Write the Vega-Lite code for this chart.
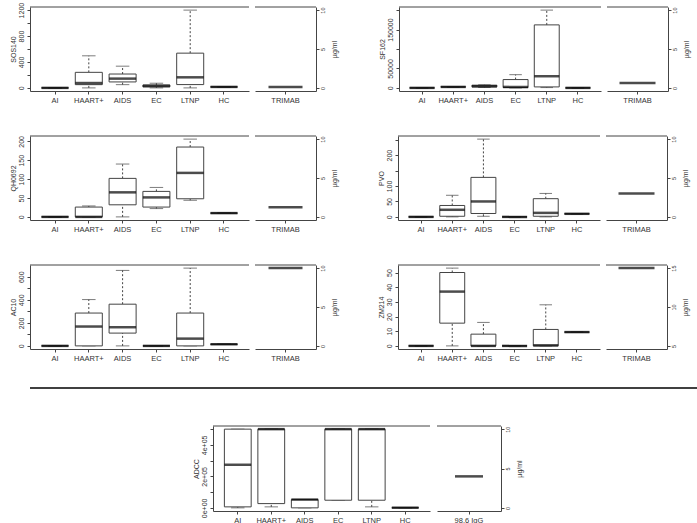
{
"$schema": "https://vega.github.io/schema/vega-lite/v6.json",
"padding": {"left": 8, "top": 2, "right": 0, "bottom": 0},
"background": "white",
"datasets": {
"box": [
{"panel":"SOS140","group":"AI","min":0,"q1":0,"med":0,"q3":0,"max":0},
{"panel":"SOS140","group":"HAART+","min":0,"q1":50,"med":75,"q3":240,"max":495},
{"panel":"SOS140","group":"AIDS","min":50,"q1":92,"med":143,"q3":214,"max":335},
{"panel":"SOS140","group":"EC","min":0,"q1":15,"med":30,"q3":45,"max":72},
{"panel":"SOS140","group":"LTNP","min":0,"q1":51,"med":163,"q3":536,"max":1200},
{"panel":"SOS140","group":"HC","min":15,"q1":15,"med":15,"q3":15,"max":15},
{"panel":"SF162","group":"AI","min":0,"q1":0,"med":0,"q3":0,"max":0},
{"panel":"SF162","group":"HAART+","min":2000,"q1":2300,"med":2500,"q3":2700,"max":3000},
{"panel":"SF162","group":"AIDS","min":1000,"q1":2500,"med":4200,"q3":7000,"max":8000},
{"panel":"SF162","group":"EC","min":0,"q1":800,"med":2500,"q3":21400,"max":34000},
{"panel":"SF162","group":"LTNP","min":800,"q1":2500,"med":30000,"q3":162000,"max":200000},
{"panel":"SF162","group":"HC","min":0,"q1":0,"med":0,"q3":0,"max":0},
{"panel":"QH0692","group":"AI","min":0,"q1":0,"med":0,"q3":0,"max":0},
{"panel":"QH0692","group":"HAART+","min":0,"q1":0,"med":0,"q3":26,"max":29},
{"panel":"QH0692","group":"AIDS","min":0,"q1":32,"med":65,"q3":102,"max":140},
{"panel":"QH0692","group":"EC","min":22,"q1":26,"med":51.6,"q3":67.5,"max":78},
{"panel":"QH0692","group":"LTNP","min":44,"q1":48,"med":116.5,"q3":185,"max":206},
{"panel":"QH0692","group":"HC","min":10,"q1":10,"med":10,"q3":10,"max":10},
{"panel":"PVO","group":"AI","min":0,"q1":0,"med":0,"q3":0,"max":0},
{"panel":"PVO","group":"HAART+","min":0,"q1":2,"med":23,"q3":37,"max":70},
{"panel":"PVO","group":"AIDS","min":2,"q1":11,"med":50,"q3":128,"max":252},
{"panel":"PVO","group":"EC","min":0,"q1":0,"med":0,"q3":0,"max":0},
{"panel":"PVO","group":"LTNP","min":0,"q1":2,"med":13,"q3":59,"max":76},
{"panel":"PVO","group":"HC","min":10,"q1":10,"med":10,"q3":10,"max":10},
{"panel":"AC10","group":"AI","min":0,"q1":0,"med":0,"q3":0,"max":0},
{"panel":"AC10","group":"HAART+","min":0,"q1":0,"med":168,"q3":285,"max":402},
{"panel":"AC10","group":"AIDS","min":0,"q1":111,"med":162,"q3":362,"max":655},
{"panel":"AC10","group":"EC","min":0,"q1":0,"med":0,"q3":0,"max":0},
{"panel":"AC10","group":"LTNP","min":0,"q1":0,"med":63,"q3":285,"max":675},
{"panel":"AC10","group":"HC","min":14,"q1":14,"med":14,"q3":14,"max":14},
{"panel":"ZM214","group":"AI","min":0,"q1":0,"med":0,"q3":0,"max":0},
{"panel":"ZM214","group":"HAART+","min":0,"q1":15.5,"med":37,"q3":50,"max":53},
{"panel":"ZM214","group":"AIDS","min":0,"q1":0,"med":0,"q3":8,"max":16},
{"panel":"ZM214","group":"EC","min":0,"q1":0,"med":0,"q3":0,"max":0},
{"panel":"ZM214","group":"LTNP","min":0,"q1":0,"med":0.4,"q3":11.2,"max":28},
{"panel":"ZM214","group":"HC","min":9.4,"q1":9.4,"med":9.4,"q3":9.4,"max":9.4},
{"panel":"ADCC","group":"AI","min":0,"q1":6300,"med":273700,"q3":500000,"max":500000},
{"panel":"ADCC","group":"HAART+","min":6300,"q1":27000,"med":500000,"q3":500000,"max":500000},
{"panel":"ADCC","group":"AIDS","min":0,"q1":0,"med":52600,"q3":52600,"max":52600},
{"panel":"ADCC","group":"EC","min":48400,"q1":48400,"med":500000,"q3":500000,"max":500000},
{"panel":"ADCC","group":"LTNP","min":6300,"q1":48400,"med":500000,"q3":500000,"max":500000},
{"panel":"ADCC","group":"HC","min":1000,"q1":1000,"med":1000,"q3":1000,"max":1000}
],
"ref": [
{"panel":"SOS140","group":"TRIMAB","value":0.1},
{"panel":"SF162","group":"TRIMAB","value":0.64},
{"panel":"QH0692","group":"TRIMAB","value":1.23},
{"panel":"PVO","group":"TRIMAB","value":3.0},
{"panel":"AC10","group":"TRIMAB","value":10},
{"panel":"ZM214","group":"TRIMAB","value":15},
{"panel":"ADCC","group":"98.6 IgG","value":4.0}
]
},
"spacing": 25,
"vconcat": [
{
"spacing": 31,
"vconcat": [
{
"spacing": 39,
"hconcat": [
{"spacing": 4, "hconcat": [
{"width": 219, "height": 84, "data": {"name": "box"}, "transform": [{"filter": "datum.panel === 'SOS140'"}], "resolve": {"axis": {"y": "independent"}},
"layer": [
{"mark": {"type": "rule", "color": "#444", "strokeDash": [2, 2]}, "encoding": {"x": {"field": "group", "type": "nominal", "sort": ["AI","HAART+","AIDS","EC","LTNP","HC"], "scale": {"type": "band", "paddingInner": 0, "paddingOuter": 0.24}, "axis": {"title": null}}, "y": {"field": "q3", "type": "quantitative", "scale": {"domain": [-48, 1248], "nice": false, "zero": false}, "axis": {"title": "SOS140", "format": "d", "labelOverlap": false, "values": [0,200,400,600,800,1000,1200], "labelExpr": "indexof([0,400,800,1200], datum.value) >= 0 ? datum.label : ''"}}, "y2": {"field": "max"}}},
{"mark": {"type": "rule", "color": "#444", "strokeDash": [2, 2]}, "encoding": {"x": {"field": "group", "type": "nominal", "sort": ["AI","HAART+","AIDS","EC","LTNP","HC"]}, "y": {"field": "min", "type": "quantitative", "axis": null}, "y2": {"field": "q1"}}},
{"mark": {"type": "tick", "size": 13.5, "thickness": 1, "color": "#444"}, "encoding": {"x": {"field": "group", "type": "nominal", "sort": ["AI","HAART+","AIDS","EC","LTNP","HC"]}, "y": {"field": "max", "type": "quantitative", "axis": null}}},
{"mark": {"type": "tick", "size": 13.5, "thickness": 1, "color": "#444"}, "encoding": {"x": {"field": "group", "type": "nominal", "sort": ["AI","HAART+","AIDS","EC","LTNP","HC"]}, "y": {"field": "min", "type": "quantitative", "axis": null}}},
{"mark": {"type": "bar", "width": {"band": 0.8}, "fill": "#fff", "stroke": "#444", "strokeWidth": 1}, "encoding": {"x": {"field": "group", "type": "nominal", "sort": ["AI","HAART+","AIDS","EC","LTNP","HC"]}, "y": {"field": "q1", "type": "quantitative", "axis": null}, "y2": {"field": "q3"}}},
{"mark": {"type": "tick", "size": 27, "thickness": 2.5, "color": "#000"}, "encoding": {"x": {"field": "group", "type": "nominal", "sort": ["AI","HAART+","AIDS","EC","LTNP","HC"]}, "y": {"field": "med", "type": "quantitative", "axis": null}}},
{"data": {"values": [{}]}, "mark": {"type": "rule", "color": "#444"}, "encoding": {"y": {"datum": 1248, "type": "quantitative", "axis": null}}}
]},
{"width": 61, "height": 84, "resolve": {"axis": {"y": "independent"}},
"layer": [
{"data": {"name": "ref"}, "transform": [{"filter": "datum.panel === 'SOS140'"}], "mark": {"type": "tick", "size": 34, "thickness": 2.5, "color": "#000"}, "encoding": {"x": {"field": "group", "type": "nominal", "scale": {"type": "band"}, "axis": {"title": null}}, "y": {"field": "value", "type": "quantitative", "scale": {"domain": [-0.4, 10.4], "nice": false, "zero": false}, "axis": {"orient": "right", "title": "µg/ml", "labelOverlap": false, "values": [0, 5, 10]}}}},
{"data": {"values": [{}]}, "mark": {"type": "rule", "color": "#444"}, "encoding": {"y": {"datum": 10.4, "type": "quantitative", "axis": null}}}
]}
]},
{"spacing": 4, "hconcat": [
{"width": 202, "height": 84, "data": {"name": "box"}, "transform": [{"filter": "datum.panel === 'SF162'"}], "resolve": {"axis": {"y": "independent"}},
"layer": [
{"mark": {"type": "rule", "color": "#444", "strokeDash": [2, 2]}, "encoding": {"x": {"field": "group", "type": "nominal", "sort": ["AI","HAART+","AIDS","EC","LTNP","HC"], "scale": {"type": "band", "paddingInner": 0, "paddingOuter": 0.24}, "axis": {"title": null}}, "y": {"field": "q3", "type": "quantitative", "scale": {"domain": [-8000, 208000], "nice": false, "zero": false}, "axis": {"title": "SF162", "format": "d", "labelOverlap": false, "values": [0,50000,100000,150000,200000], "labelExpr": "indexof([0,50000,150000], datum.value) >= 0 ? datum.label : ''"}}, "y2": {"field": "max"}}},
{"mark": {"type": "rule", "color": "#444", "strokeDash": [2, 2]}, "encoding": {"x": {"field": "group", "type": "nominal", "sort": ["AI","HAART+","AIDS","EC","LTNP","HC"]}, "y": {"field": "min", "type": "quantitative", "axis": null}, "y2": {"field": "q1"}}},
{"mark": {"type": "tick", "size": 12.5, "thickness": 1, "color": "#444"}, "encoding": {"x": {"field": "group", "type": "nominal", "sort": ["AI","HAART+","AIDS","EC","LTNP","HC"]}, "y": {"field": "max", "type": "quantitative", "axis": null}}},
{"mark": {"type": "tick", "size": 12.5, "thickness": 1, "color": "#444"}, "encoding": {"x": {"field": "group", "type": "nominal", "sort": ["AI","HAART+","AIDS","EC","LTNP","HC"]}, "y": {"field": "min", "type": "quantitative", "axis": null}}},
{"mark": {"type": "bar", "width": {"band": 0.8}, "fill": "#fff", "stroke": "#444", "strokeWidth": 1}, "encoding": {"x": {"field": "group", "type": "nominal", "sort": ["AI","HAART+","AIDS","EC","LTNP","HC"]}, "y": {"field": "q1", "type": "quantitative", "axis": null}, "y2": {"field": "q3"}}},
{"mark": {"type": "tick", "size": 25, "thickness": 2.5, "color": "#000"}, "encoding": {"x": {"field": "group", "type": "nominal", "sort": ["AI","HAART+","AIDS","EC","LTNP","HC"]}, "y": {"field": "med", "type": "quantitative", "axis": null}}},
{"data": {"values": [{}]}, "mark": {"type": "rule", "color": "#444"}, "encoding": {"y": {"datum": 208000, "type": "quantitative", "axis": null}}}
]},
{"width": 61, "height": 84, "resolve": {"axis": {"y": "independent"}},
"layer": [
{"data": {"name": "ref"}, "transform": [{"filter": "datum.panel === 'SF162'"}], "mark": {"type": "tick", "size": 36, "thickness": 2.5, "color": "#000"}, "encoding": {"x": {"field": "group", "type": "nominal", "scale": {"type": "band"}, "axis": {"title": null}}, "y": {"field": "value", "type": "quantitative", "scale": {"domain": [-0.4, 10.4], "nice": false, "zero": false}, "axis": {"orient": "right", "title": "µg/ml", "labelOverlap": false, "values": [0, 5, 10]}}}},
{"data": {"values": [{}]}, "mark": {"type": "rule", "color": "#444"}, "encoding": {"y": {"datum": 10.4, "type": "quantitative", "axis": null}}}
]}
]}
]
},
{
"spacing": 39,
"hconcat": [
{"spacing": 4, "hconcat": [
{"width": 219, "height": 84, "data": {"name": "box"}, "transform": [{"filter": "datum.panel === 'QH0692'"}], "resolve": {"axis": {"y": "independent"}},
"layer": [
{"mark": {"type": "rule", "color": "#444", "strokeDash": [2, 2]}, "encoding": {"x": {"field": "group", "type": "nominal", "sort": ["AI","HAART+","AIDS","EC","LTNP","HC"], "scale": {"type": "band", "paddingInner": 0, "paddingOuter": 0.24}, "axis": {"title": null}}, "y": {"field": "q3", "type": "quantitative", "scale": {"domain": [-8.24, 214.24], "nice": false, "zero": false}, "axis": {"title": "QH0692", "format": "d", "labelOverlap": false, "values": [0,50,100,150,200]}}, "y2": {"field": "max"}}},
{"mark": {"type": "rule", "color": "#444", "strokeDash": [2, 2]}, "encoding": {"x": {"field": "group", "type": "nominal", "sort": ["AI","HAART+","AIDS","EC","LTNP","HC"]}, "y": {"field": "min", "type": "quantitative", "axis": null}, "y2": {"field": "q1"}}},
{"mark": {"type": "tick", "size": 13.5, "thickness": 1, "color": "#444"}, "encoding": {"x": {"field": "group", "type": "nominal", "sort": ["AI","HAART+","AIDS","EC","LTNP","HC"]}, "y": {"field": "max", "type": "quantitative", "axis": null}}},
{"mark": {"type": "tick", "size": 13.5, "thickness": 1, "color": "#444"}, "encoding": {"x": {"field": "group", "type": "nominal", "sort": ["AI","HAART+","AIDS","EC","LTNP","HC"]}, "y": {"field": "min", "type": "quantitative", "axis": null}}},
{"mark": {"type": "bar", "width": {"band": 0.8}, "fill": "#fff", "stroke": "#444", "strokeWidth": 1}, "encoding": {"x": {"field": "group", "type": "nominal", "sort": ["AI","HAART+","AIDS","EC","LTNP","HC"]}, "y": {"field": "q1", "type": "quantitative", "axis": null}, "y2": {"field": "q3"}}},
{"mark": {"type": "tick", "size": 27, "thickness": 2.5, "color": "#000"}, "encoding": {"x": {"field": "group", "type": "nominal", "sort": ["AI","HAART+","AIDS","EC","LTNP","HC"]}, "y": {"field": "med", "type": "quantitative", "axis": null}}},
{"data": {"values": [{}]}, "mark": {"type": "rule", "color": "#444"}, "encoding": {"y": {"datum": 214.24, "type": "quantitative", "axis": null}}}
]},
{"width": 61, "height": 84, "resolve": {"axis": {"y": "independent"}},
"layer": [
{"data": {"name": "ref"}, "transform": [{"filter": "datum.panel === 'QH0692'"}], "mark": {"type": "tick", "size": 34, "thickness": 2.5, "color": "#000"}, "encoding": {"x": {"field": "group", "type": "nominal", "scale": {"type": "band"}, "axis": {"title": null}}, "y": {"field": "value", "type": "quantitative", "scale": {"domain": [-0.4, 10.4], "nice": false, "zero": false}, "axis": {"orient": "right", "title": "µg/ml", "labelOverlap": false, "values": [0, 5, 10]}}}},
{"data": {"values": [{}]}, "mark": {"type": "rule", "color": "#444"}, "encoding": {"y": {"datum": 10.4, "type": "quantitative", "axis": null}}}
]}
]},
{"spacing": 4, "hconcat": [
{"width": 202, "height": 84, "data": {"name": "box"}, "transform": [{"filter": "datum.panel === 'PVO'"}], "resolve": {"axis": {"y": "independent"}},
"layer": [
{"mark": {"type": "rule", "color": "#444", "strokeDash": [2, 2]}, "encoding": {"x": {"field": "group", "type": "nominal", "sort": ["AI","HAART+","AIDS","EC","LTNP","HC"], "scale": {"type": "band", "paddingInner": 0, "paddingOuter": 0.24}, "axis": {"title": null}}, "y": {"field": "q3", "type": "quantitative", "scale": {"domain": [-10.08, 262.08], "nice": false, "zero": false}, "axis": {"title": "PVO", "format": "d", "labelOverlap": false, "values": [0,50,100,150,200,250], "labelExpr": "indexof([0,50,100,200], datum.value) >= 0 ? datum.label : ''"}}, "y2": {"field": "max"}}},
{"mark": {"type": "rule", "color": "#444", "strokeDash": [2, 2]}, "encoding": {"x": {"field": "group", "type": "nominal", "sort": ["AI","HAART+","AIDS","EC","LTNP","HC"]}, "y": {"field": "min", "type": "quantitative", "axis": null}, "y2": {"field": "q1"}}},
{"mark": {"type": "tick", "size": 12.5, "thickness": 1, "color": "#444"}, "encoding": {"x": {"field": "group", "type": "nominal", "sort": ["AI","HAART+","AIDS","EC","LTNP","HC"]}, "y": {"field": "max", "type": "quantitative", "axis": null}}},
{"mark": {"type": "tick", "size": 12.5, "thickness": 1, "color": "#444"}, "encoding": {"x": {"field": "group", "type": "nominal", "sort": ["AI","HAART+","AIDS","EC","LTNP","HC"]}, "y": {"field": "min", "type": "quantitative", "axis": null}}},
{"mark": {"type": "bar", "width": {"band": 0.8}, "fill": "#fff", "stroke": "#444", "strokeWidth": 1}, "encoding": {"x": {"field": "group", "type": "nominal", "sort": ["AI","HAART+","AIDS","EC","LTNP","HC"]}, "y": {"field": "q1", "type": "quantitative", "axis": null}, "y2": {"field": "q3"}}},
{"mark": {"type": "tick", "size": 25, "thickness": 2.5, "color": "#000"}, "encoding": {"x": {"field": "group", "type": "nominal", "sort": ["AI","HAART+","AIDS","EC","LTNP","HC"]}, "y": {"field": "med", "type": "quantitative", "axis": null}}},
{"data": {"values": [{}]}, "mark": {"type": "rule", "color": "#444"}, "encoding": {"y": {"datum": 262.08, "type": "quantitative", "axis": null}}}
]},
{"width": 61, "height": 84, "resolve": {"axis": {"y": "independent"}},
"layer": [
{"data": {"name": "ref"}, "transform": [{"filter": "datum.panel === 'PVO'"}], "mark": {"type": "tick", "size": 36, "thickness": 2.5, "color": "#000"}, "encoding": {"x": {"field": "group", "type": "nominal", "scale": {"type": "band"}, "axis": {"title": null}}, "y": {"field": "value", "type": "quantitative", "scale": {"domain": [-0.4, 10.4], "nice": false, "zero": false}, "axis": {"orient": "right", "title": "µg/ml", "labelOverlap": false, "values": [0, 5, 10]}}}},
{"data": {"values": [{}]}, "mark": {"type": "rule", "color": "#444"}, "encoding": {"y": {"datum": 10.4, "type": "quantitative", "axis": null}}}
]}
]}
]
},
{
"spacing": 39,
"hconcat": [
{"spacing": 4, "hconcat": [
{"width": 219, "height": 84, "data": {"name": "box"}, "transform": [{"filter": "datum.panel === 'AC10'"}], "resolve": {"axis": {"y": "independent"}},
"layer": [
{"mark": {"type": "rule", "color": "#444", "strokeDash": [2, 2]}, "encoding": {"x": {"field": "group", "type": "nominal", "sort": ["AI","HAART+","AIDS","EC","LTNP","HC"], "scale": {"type": "band", "paddingInner": 0, "paddingOuter": 0.24}, "axis": {"title": null}}, "y": {"field": "q3", "type": "quantitative", "scale": {"domain": [-27, 702], "nice": false, "zero": false}, "axis": {"title": "AC10", "format": "d", "labelOverlap": false, "values": [0,100,200,300,400,500,600], "labelExpr": "indexof([0,200,400,600], datum.value) >= 0 ? datum.label : ''"}}, "y2": {"field": "max"}}},
{"mark": {"type": "rule", "color": "#444", "strokeDash": [2, 2]}, "encoding": {"x": {"field": "group", "type": "nominal", "sort": ["AI","HAART+","AIDS","EC","LTNP","HC"]}, "y": {"field": "min", "type": "quantitative", "axis": null}, "y2": {"field": "q1"}}},
{"mark": {"type": "tick", "size": 13.5, "thickness": 1, "color": "#444"}, "encoding": {"x": {"field": "group", "type": "nominal", "sort": ["AI","HAART+","AIDS","EC","LTNP","HC"]}, "y": {"field": "max", "type": "quantitative", "axis": null}}},
{"mark": {"type": "tick", "size": 13.5, "thickness": 1, "color": "#444"}, "encoding": {"x": {"field": "group", "type": "nominal", "sort": ["AI","HAART+","AIDS","EC","LTNP","HC"]}, "y": {"field": "min", "type": "quantitative", "axis": null}}},
{"mark": {"type": "bar", "width": {"band": 0.8}, "fill": "#fff", "stroke": "#444", "strokeWidth": 1}, "encoding": {"x": {"field": "group", "type": "nominal", "sort": ["AI","HAART+","AIDS","EC","LTNP","HC"]}, "y": {"field": "q1", "type": "quantitative", "axis": null}, "y2": {"field": "q3"}}},
{"mark": {"type": "tick", "size": 27, "thickness": 2.5, "color": "#000"}, "encoding": {"x": {"field": "group", "type": "nominal", "sort": ["AI","HAART+","AIDS","EC","LTNP","HC"]}, "y": {"field": "med", "type": "quantitative", "axis": null}}},
{"data": {"values": [{}]}, "mark": {"type": "rule", "color": "#444"}, "encoding": {"y": {"datum": 702, "type": "quantitative", "axis": null}}}
]},
{"width": 61, "height": 84, "resolve": {"axis": {"y": "independent"}},
"layer": [
{"data": {"name": "ref"}, "transform": [{"filter": "datum.panel === 'AC10'"}], "mark": {"type": "tick", "size": 34, "thickness": 2.5, "color": "#000"}, "encoding": {"x": {"field": "group", "type": "nominal", "scale": {"type": "band"}, "axis": {"title": null}}, "y": {"field": "value", "type": "quantitative", "scale": {"domain": [-0.4, 10.4], "nice": false, "zero": false}, "axis": {"orient": "right", "title": "µg/ml", "labelOverlap": false, "values": [0, 5, 10]}}}},
{"data": {"values": [{}]}, "mark": {"type": "rule", "color": "#444"}, "encoding": {"y": {"datum": 10.4, "type": "quantitative", "axis": null}}}
]}
]},
{"spacing": 4, "hconcat": [
{"width": 202, "height": 84, "data": {"name": "box"}, "transform": [{"filter": "datum.panel === 'ZM214'"}], "resolve": {"axis": {"y": "independent"}},
"layer": [
{"mark": {"type": "rule", "color": "#444", "strokeDash": [2, 2]}, "encoding": {"x": {"field": "group", "type": "nominal", "sort": ["AI","HAART+","AIDS","EC","LTNP","HC"], "scale": {"type": "band", "paddingInner": 0, "paddingOuter": 0.24}, "axis": {"title": null}}, "y": {"field": "q3", "type": "quantitative", "scale": {"domain": [-2.12, 55.12], "nice": false, "zero": false}, "axis": {"title": "ZM214", "format": "d", "labelOverlap": false, "values": [0,10,20,30,40,50]}}, "y2": {"field": "max"}}},
{"mark": {"type": "rule", "color": "#444", "strokeDash": [2, 2]}, "encoding": {"x": {"field": "group", "type": "nominal", "sort": ["AI","HAART+","AIDS","EC","LTNP","HC"]}, "y": {"field": "min", "type": "quantitative", "axis": null}, "y2": {"field": "q1"}}},
{"mark": {"type": "tick", "size": 12.5, "thickness": 1, "color": "#444"}, "encoding": {"x": {"field": "group", "type": "nominal", "sort": ["AI","HAART+","AIDS","EC","LTNP","HC"]}, "y": {"field": "max", "type": "quantitative", "axis": null}}},
{"mark": {"type": "tick", "size": 12.5, "thickness": 1, "color": "#444"}, "encoding": {"x": {"field": "group", "type": "nominal", "sort": ["AI","HAART+","AIDS","EC","LTNP","HC"]}, "y": {"field": "min", "type": "quantitative", "axis": null}}},
{"mark": {"type": "bar", "width": {"band": 0.8}, "fill": "#fff", "stroke": "#444", "strokeWidth": 1}, "encoding": {"x": {"field": "group", "type": "nominal", "sort": ["AI","HAART+","AIDS","EC","LTNP","HC"]}, "y": {"field": "q1", "type": "quantitative", "axis": null}, "y2": {"field": "q3"}}},
{"mark": {"type": "tick", "size": 25, "thickness": 2.5, "color": "#000"}, "encoding": {"x": {"field": "group", "type": "nominal", "sort": ["AI","HAART+","AIDS","EC","LTNP","HC"]}, "y": {"field": "med", "type": "quantitative", "axis": null}}},
{"data": {"values": [{}]}, "mark": {"type": "rule", "color": "#444"}, "encoding": {"y": {"datum": 55.12, "type": "quantitative", "axis": null}}}
]},
{"width": 61, "height": 84, "resolve": {"axis": {"y": "independent"}},
"layer": [
{"data": {"name": "ref"}, "transform": [{"filter": "datum.panel === 'ZM214'"}], "mark": {"type": "tick", "size": 36, "thickness": 2.5, "color": "#000"}, "encoding": {"x": {"field": "group", "type": "nominal", "scale": {"type": "band"}, "axis": {"title": null}}, "y": {"field": "value", "type": "quantitative", "scale": {"domain": [4.6, 15.4], "nice": false, "zero": false}, "axis": {"orient": "right", "title": "µg/ml", "labelOverlap": false, "values": [5, 10, 15]}}}},
{"data": {"values": [{}]}, "mark": {"type": "rule", "color": "#444"}, "encoding": {"y": {"datum": 15.4, "type": "quantitative", "axis": null}}}
]}
]}
]
}
]
},
{
"spacing": 36,
"vconcat": [
{"width": 689, "height": 2, "data": {"values": [{}]}, "mark": {"type": "rule", "color": "#000", "strokeWidth": 1.5}, "encoding": {"y": {"datum": 0.5, "type": "quantitative", "scale": {"domain": [0, 1]}, "axis": null}}},
{
"spacing": 8,
"hconcat": [
{"width": 154, "height": 10, "data": {"values": []}, "mark": "point"},
{"spacing": 5, "hconcat": [
{"width": 217, "height": 85, "data": {"name": "box"}, "transform": [{"filter": "datum.panel === 'ADCC'"}], "resolve": {"axis": {"y": "independent"}},
"layer": [
{"mark": {"type": "rule", "color": "#444", "strokeDash": [2, 2]}, "encoding": {"x": {"field": "group", "type": "nominal", "sort": ["AI","HAART+","AIDS","EC","LTNP","HC"], "scale": {"type": "band", "paddingInner": 0, "paddingOuter": 0.24}, "axis": {"title": null}}, "y": {"field": "q3", "type": "quantitative", "scale": {"domain": [-20000, 520000], "nice": false, "zero": false}, "axis": {"title": "ADCC", "labelOverlap": false, "values": [0,100000,200000,300000,400000,500000], "labelExpr": "datum.value == 0 ? '0e+00' : datum.value == 200000 ? '2e+05' : datum.value == 400000 ? '4e+05' : ''"}}, "y2": {"field": "max"}}},
{"mark": {"type": "rule", "color": "#444", "strokeDash": [2, 2]}, "encoding": {"x": {"field": "group", "type": "nominal", "sort": ["AI","HAART+","AIDS","EC","LTNP","HC"]}, "y": {"field": "min", "type": "quantitative", "axis": null}, "y2": {"field": "q1"}}},
{"mark": {"type": "tick", "size": 13.4, "thickness": 1, "color": "#444"}, "encoding": {"x": {"field": "group", "type": "nominal", "sort": ["AI","HAART+","AIDS","EC","LTNP","HC"]}, "y": {"field": "max", "type": "quantitative", "axis": null}}},
{"mark": {"type": "tick", "size": 13.4, "thickness": 1, "color": "#444"}, "encoding": {"x": {"field": "group", "type": "nominal", "sort": ["AI","HAART+","AIDS","EC","LTNP","HC"]}, "y": {"field": "min", "type": "quantitative", "axis": null}}},
{"mark": {"type": "bar", "width": {"band": 0.8}, "fill": "#fff", "stroke": "#444", "strokeWidth": 1}, "encoding": {"x": {"field": "group", "type": "nominal", "sort": ["AI","HAART+","AIDS","EC","LTNP","HC"]}, "y": {"field": "q1", "type": "quantitative", "axis": null}, "y2": {"field": "q3"}}},
{"mark": {"type": "tick", "size": 26.8, "thickness": 2.5, "color": "#000"}, "encoding": {"x": {"field": "group", "type": "nominal", "sort": ["AI","HAART+","AIDS","EC","LTNP","HC"]}, "y": {"field": "med", "type": "quantitative", "axis": null}}},
{"data": {"values": [{}]}, "mark": {"type": "rule", "color": "#444"}, "encoding": {"y": {"datum": 520000, "type": "quantitative", "axis": null}}}
]},
{"width": 64, "height": 85, "resolve": {"axis": {"y": "independent"}},
"layer": [
{"data": {"name": "ref"}, "transform": [{"filter": "datum.panel === 'ADCC'"}], "mark": {"type": "tick", "size": 28, "thickness": 2.5, "color": "#000"}, "encoding": {"x": {"field": "group", "type": "nominal", "scale": {"type": "band"}, "axis": {"title": null}}, "y": {"field": "value", "type": "quantitative", "scale": {"domain": [-0.4, 10.4], "nice": false, "zero": false}, "axis": {"orient": "right", "title": "µg/ml", "labelOverlap": false, "values": [0, 5, 10]}}}},
{"data": {"values": [{}]}, "mark": {"type": "rule", "color": "#444"}, "encoding": {"y": {"datum": 10.4, "type": "quantitative", "axis": null}}}
]}
]}
]
}
]
}
],
"config": {
"view": {"stroke": null},
"font": "Liberation Sans",
"axis": {"grid": false, "domainColor": "#444", "tickColor": "#444", "labelColor": "#333", "titleColor": "#333", "labelFontSize": 7, "titleFontSize": 7, "titleFontWeight": "normal", "tickSize": 3, "domainWidth": 1, "tickWidth": 1, "labelOverlap": false, "labelFont": "Liberation Sans", "titleFont": "Liberation Sans"},
"axisBottom": {"labelAngle": 0, "labelPadding": 2, "labelFontSize": 7.5},
"axisLeft": {"labelAngle": 270, "labelAlign": "center", "labelBaseline": "bottom", "labelPadding": 2.5, "titlePadding": 1.5},
"axisRight": {"labelAngle": 270, "labelAlign": "center", "labelBaseline": "top", "labelPadding": 1.3, "titlePadding": 5, "labelFontSize": 5.5, "titleAngle": 270, "titleBaseline": "top"}
}
}
